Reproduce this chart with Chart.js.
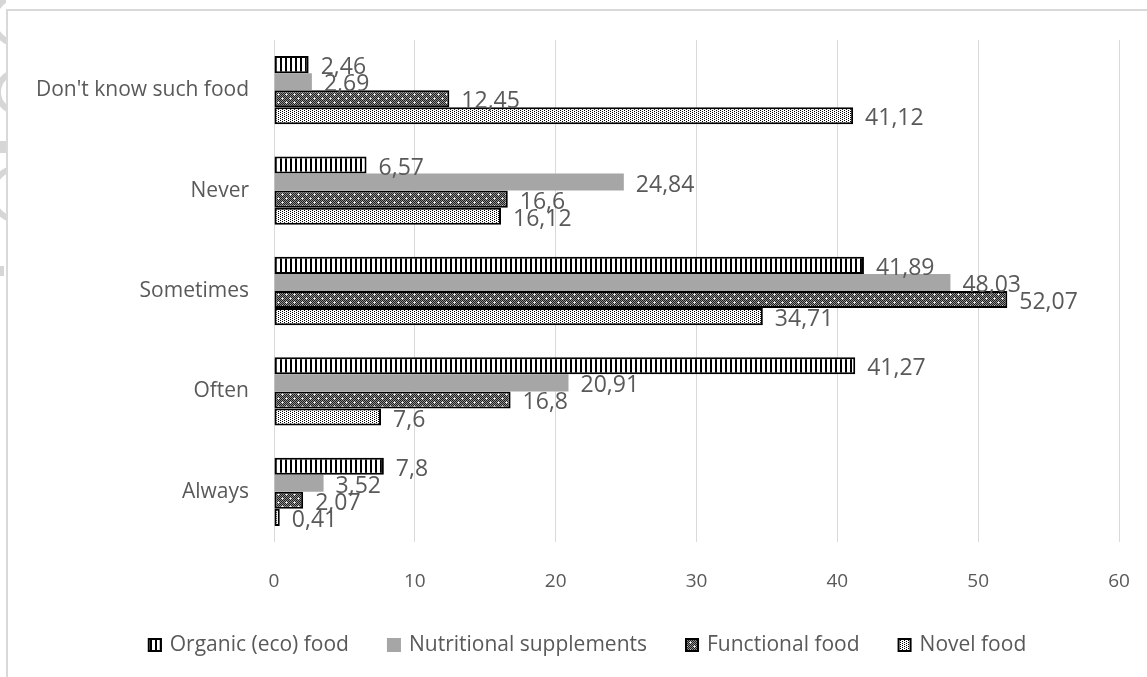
<!DOCTYPE html>
<html>
<head>
<meta charset="utf-8">
<script src="https://cdn.jsdelivr.net/npm/chart.js@4/dist/chart.umd.min.js"></script>
<style>
  html, body { margin: 0; padding: 0; background: #ffffff; }
  #wrap { width: 1147px; height: 677px; }
</style>
</head>
<body>
<div id="wrap"><canvas id="chart" width="1147" height="677"></canvas></div>
<script>
// Survey answers per food category (percent of respondents)
const categories = ["Don't know such food", "Never", "Sometimes", "Often", "Always"];
const seriesNames = ["Organic (eco) food", "Nutritional supplements", "Functional food", "Novel food"];
const organicFood = [2.46, 6.57, 41.89, 41.27, 7.8];
const nutritionalSupplements = [2.69, 24.84, 48.03, 20.91, 3.52];
const functionalFood = [12.45, 16.6, 52.07, 16.8, 2.07];
const novelFood = [41.12, 16.12, 34.71, 7.6, 0.41];
const xTickValues = [0, 10, 20, 30, 40, 50, 60];

const FONT = "'Open Sans', 'Noto Sans', 'DejaVu Sans', sans-serif";
const TEXT = '#595959';

// --- fill patterns -------------------------------------------------------
function tile(w, h, draw) {
  const c = document.createElement('canvas');
  c.width = w; c.height = h;
  const g = c.getContext('2d');
  draw(g);
  return document.getElementById('chart').getContext('2d').createPattern(c, 'repeat');
}
const stripePattern = tile(5, 5, g => {
  g.fillStyle = '#ffffff'; g.fillRect(0, 0, 5, 5);
  g.fillStyle = '#000000'; g.fillRect(0, 0, 2, 5);
});
const darkDotPattern = tile(8, 8, g => {
  for (let y = 0; y < 8; y++) for (let x = 0; x < 8; x++) {
    g.fillStyle = ((x + y) % 2 === 0) ? '#1e1e1e' : '#8c8c8c';
    g.fillRect(x, y, 1, 1);
  }
  g.fillStyle = '#ffffff';
  [[2, 2], [6, 6]].forEach(([cx, cy]) => g.fillRect(cx, cy, 1, 1));
  g.fillStyle = '#d0d0d0';
  [[1, 2], [3, 2], [2, 1], [2, 3], [5, 6], [7, 6], [6, 5], [6, 7]].forEach(([px, py]) => g.fillRect(px, py, 1, 1));
});
const lightDotPattern = tile(4, 4, g => {
  g.fillStyle = '#ffffff'; g.fillRect(0, 0, 4, 4);
  g.fillStyle = '#000000';
  [[0, 0], [2, 1], [0, 2], [2, 3]].forEach(([px, py]) => g.fillRect(px, py, 1, 1));
});

const fills = [stripePattern, '#a6a6a6', darkDotPattern, lightDotPattern];
const borders = [2, 0, 2, 2];
const seriesValues = [organicFood, nutritionalSupplements, functionalFood, novelFood];

// --- plugins ---------------------------------------------------------------
const frame = {
  id: 'frame',
  beforeDraw(chart) {
    const ctx = chart.ctx;
    ctx.save();
    ctx.fillStyle = '#ffffff';
    ctx.fillRect(0, 0, chart.width, chart.height);
    // faint marks along the outer left margin
    ctx.beginPath();
    ctx.rect(0, 0, 6, chart.height);
    ctx.clip();
    ctx.strokeStyle = '#d6d6d6';
    ctx.lineWidth = 6;
    [[18, 20, 24], [18, 92, 20], [18, 194, 26]].forEach(([cx, cy, r]) => {
      ctx.beginPath();
      ctx.arc(cx, cy, r, 0, Math.PI * 2);
      ctx.stroke();
    });
    ctx.fillStyle = '#d6d6d6';
    ctx.fillRect(0, 141, 6, 12);
    ctx.fillRect(0, 266, 4, 10);
    ctx.restore();

    ctx.save();
    ctx.strokeStyle = '#d9d9d9';
    ctx.lineWidth = 2;
    ctx.beginPath();
    ctx.moveTo(7, chart.height);
    ctx.lineTo(7, 10);
    ctx.lineTo(chart.width, 10);
    ctx.stroke();
    ctx.restore();
  }
};

const valueLabels = {
  id: 'valueLabels',
  afterDatasetsDraw(chart) {
    const ctx = chart.ctx;
    ctx.save();
    ctx.font = '23px ' + FONT;
    ctx.fillStyle = TEXT;
    ctx.textAlign = 'left';
    ctx.textBaseline = 'middle';
    chart.data.datasets.forEach((ds, i) => {
      chart.getDatasetMeta(i).data.forEach((bar, j) => {
        const txt = String(ds.data[j]).replace('.', ',');
        ctx.fillText(txt, bar.x + 12, bar.y + 3);
      });
    });
    ctx.restore();
  }
};

const bottomLegend = {
  id: 'bottomLegend',
  afterDraw(chart) {
    const ctx = chart.ctx;
    ctx.save();
    ctx.font = '21px ' + FONT;
    const box = 14, gap = 8, spacing = 38;
    const widths = chart.data.datasets.map(ds => box + gap + ctx.measureText(ds.label).width);
    const total = widths.reduce((a, b) => a + b, 0) + spacing * (widths.length - 1);
    let x = 587 - total / 2;
    const cy = 645;
    chart.data.datasets.forEach((ds, i) => {
      ctx.fillStyle = ds.backgroundColor;
      ctx.fillRect(x, cy - box / 2, box, box);
      if (ds.borderWidth) {
        ctx.strokeStyle = '#000000';
        ctx.lineWidth = 2;
        ctx.strokeRect(x + 1, cy - box / 2 + 1, box - 2, box - 2);
      }
      ctx.fillStyle = TEXT;
      ctx.textAlign = 'left';
      ctx.textBaseline = 'middle';
      ctx.fillText(ds.label, x + box + gap, cy);
      x += widths[i] + spacing;
    });
    ctx.restore();
  }
};

new Chart(document.getElementById('chart'), {
  type: 'bar',
  data: {
    labels: categories,
    datasets: seriesNames.map((name, i) => ({
      label: name,
      data: seriesValues[i],
      backgroundColor: fills[i],
      borderColor: '#000000',
      borderWidth: borders[i],
      borderSkipped: false,
      categoryPercentage: 0.68,
      barPercentage: 1.0
    }))
  },
  options: {
    indexAxis: 'y',
    responsive: false,
    animation: false,
    layout: { padding: { left: 0, right: 28, top: 40, bottom: 0 } },
    plugins: {
      legend: { display: false },
      tooltip: { enabled: false }
    },
    scales: {
      x: {
        min: xTickValues[0],
        max: xTickValues[xTickValues.length - 1],
        afterBuildTicks(scale) { scale.ticks = xTickValues.map(v => ({ value: v })); },
        afterFit(scale) { scale.height = 135; },
        grid: { color: '#d9d9d9', lineWidth: 1, drawTicks: true, tickLength: 28, tickColor: 'rgba(0,0,0,0)' },
        border: { display: false },
        ticks: { color: TEXT, font: { family: FONT, size: 19 }, padding: 0 }
      },
      y: {
        afterFit(scale) { scale.width = 274; },
        grid: { display: false, drawTicks: false },
        border: { display: false },
        ticks: { color: TEXT, font: { family: FONT, size: 21 }, padding: 25 }
      }
    }
  },
  plugins: [frame, valueLabels, bottomLegend]
});
</script>
</body>
</html>
